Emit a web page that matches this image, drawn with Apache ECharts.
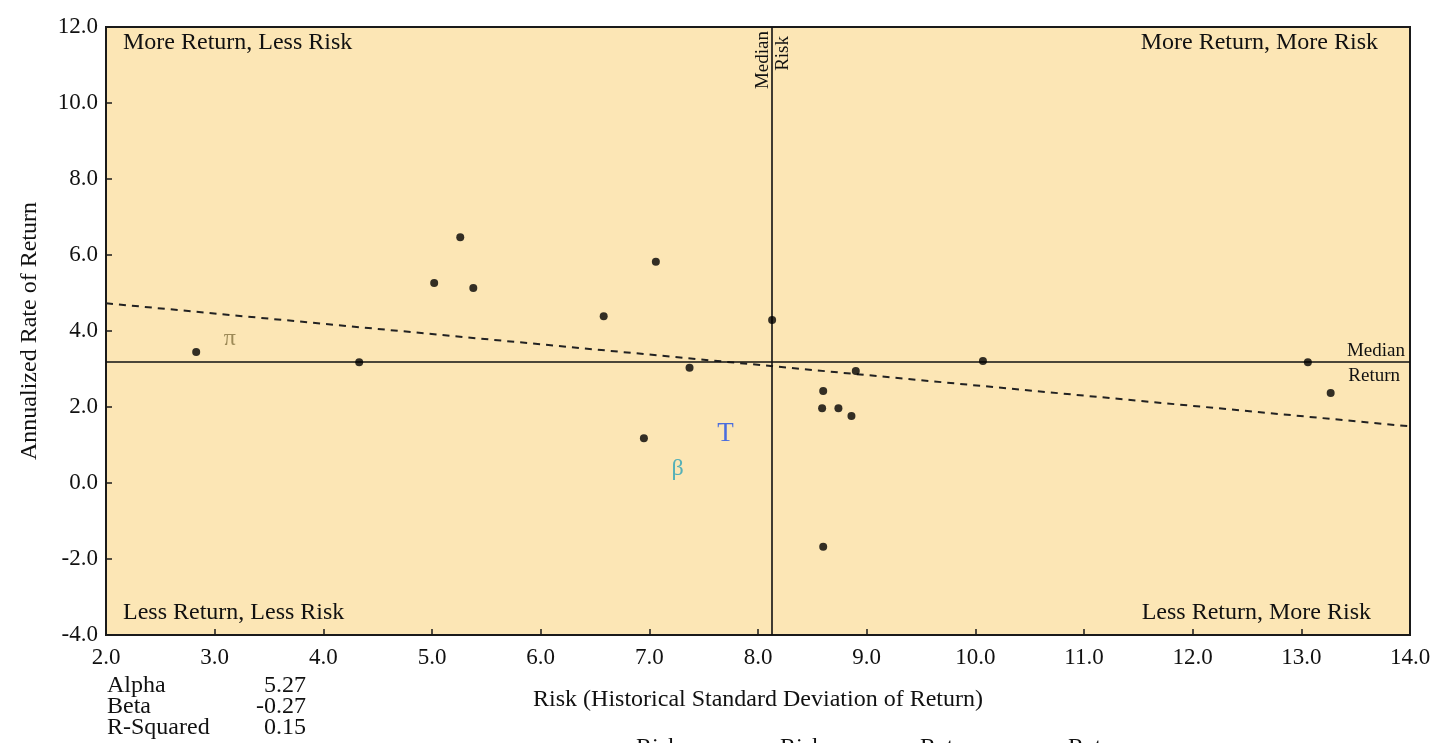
<!DOCTYPE html>
<html>
<head>
<meta charset="utf-8">
<script src="https://cdn.jsdelivr.net/npm/echarts@6/dist/echarts.min.js"></script>
<style>
html,body{margin:0;padding:0;background:#fff;}
#chart{width:1436px;height:743px;}
</style>
</head>
<body>
<div id="chart"></div>
<script>
// ---- data ----
const managerPoints = [
  [2.83, 3.45], [4.33, 3.18], [5.02, 5.26], [5.26, 6.47], [5.38, 5.13],
  [6.58, 4.39], [7.06, 5.82], [6.95, 1.18], [7.37, 3.03], [8.13, 4.29],
  [8.90, 2.95], [8.60, 2.42], [8.59, 1.97], [8.74, 1.97], [8.86, 1.76],
  [8.60, -1.68], [10.07, 3.21], [13.06, 3.18], [13.27, 2.37]
];
const benchmarkSymbols = ['π', 'β', 'T'];
const benchmarkPoints = [[3.14, 3.79], [7.26, 0.37], [7.70, 1.29]];
const benchmarkColors = ['#857340', '#2AA3B8', '#1D4FE8'];
const regressionLine = [[2.0, 4.73], [14.0, 1.49]];
const medianRisk = 8.13;
const medianReturn = 3.18;
const statNames = ['Alpha', 'Beta', 'R-Squared'];
const statValues = ['5.27', '-0.27', '0.15'];
const quadrantLabels = ['More Return, Less Risk', 'More Return, More Risk', 'Less Return, Less Risk', 'Less Return, More Risk'];
const bottomLegendWords = ['Risk', 'Risk', 'Return', 'Return'];
const xTicks = {min: 2, max: 14, interval: 1};
const yTicks = {min: -4, max: 12, interval: 2};

const FONT = 'Liberation Serif';
const chart = echarts.init(document.getElementById('chart'));

const G = {left: 106, right: 26, top: 27, bottom: 108};

const option = {
  animation: false,
  backgroundColor: '#ffffff',
  grid: {
    left: G.left, right: G.right, top: G.top, bottom: G.bottom,
    show: true, backgroundColor: '#FCE6B5', borderColor: '#1a1a1a', borderWidth: 2
  },
  xAxis: {
    type: 'value', min: xTicks.min, max: xTicks.max, interval: xTicks.interval,
    name: 'Risk (Historical Standard Deviation of Return)',
    nameLocation: 'middle', nameGap: 53,
    nameTextStyle: {fontFamily: FONT, fontSize: 24, color: '#111'},
    axisLine: {show: true, onZero: false, lineStyle: {color: '#1a1a1a', width: 2}},
    axisTick: {show: true, inside: true, length: 6, lineStyle: {color: '#1a1a1a', width: 1.5}},
    axisLabel: {fontFamily: FONT, fontSize: 23, color: '#111', margin: 11,
      formatter: v => v.toFixed(1)},
    splitLine: {show: false}
  },
  yAxis: {
    type: 'value', min: yTicks.min, max: yTicks.max, interval: yTicks.interval,
    name: 'Annualized Rate of Return',
    nameLocation: 'middle', nameGap: 64, nameRotate: 90,
    nameTextStyle: {fontFamily: FONT, fontSize: 24, color: '#111'},
    axisLine: {show: true, onZero: false, lineStyle: {color: '#1a1a1a', width: 2}},
    axisTick: {show: true, inside: true, length: 6, lineStyle: {color: '#1a1a1a', width: 1.5}},
    axisLabel: {fontFamily: FONT, fontSize: 23, color: '#111', margin: 8,
      formatter: v => v.toFixed(1)},
    splitLine: {show: false}
  },
  series: [
    {
      type: 'line', data: regressionLine, symbol: 'none', silent: true,
      lineStyle: {color: '#222', width: 2, type: [7, 6]}, z: 3
    },
    {
      type: 'scatter', data: managerPoints, symbol: 'circle', symbolSize: 8,
      itemStyle: {color: '#000'}, z: 5,
      markLine: {
        silent: true, symbol: 'none', animation: false,
        lineStyle: {color: '#111', width: 1.6, type: 'solid'},
        label: {show: false},
        data: [{xAxis: medianRisk}, {yAxis: medianReturn}]
      }
    },
    {
      type: 'scatter',
      data: benchmarkPoints.map((p, i) => ({
        value: p,
        label: {formatter: benchmarkSymbols[i], color: benchmarkColors[i], fontSize: i === 0 ? 24 : (i === 1 ? 24 : 27)}
      })),
      symbol: 'circle', symbolSize: 1, itemStyle: {color: 'rgba(0,0,0,0)'}, z: 6,
      label: {show: true, position: 'inside', fontFamily: FONT, fontSize: 24}
    }
  ],
  graphic: []
};
chart.setOption(option);

// place annotation texts relative to the axes
const mr = chart.convertToPixel({gridIndex: 0}, [medianRisk, yTicks.max]);
const mret = chart.convertToPixel({gridIndex: 0}, [xTicks.max, medianReturn]);
const txt = (o) => Object.assign({type: 'text', silent: true, z: 50}, o);
const ts = (text, size, extra) => Object.assign({text: text, fontFamily: FONT, fontSize: size, fill: '#111'}, extra || {});
const gridL = G.left, gridR = 1436 - G.right, gridT = G.top, gridB = 743 - G.bottom;

const graphics = [
  txt({x: gridL + 17, y: gridT + 16, style: ts(quadrantLabels[0], 24, {verticalAlign: 'middle', align: 'left'})}),
  txt({x: gridR - 32, y: gridT + 16, style: ts(quadrantLabels[1], 24, {verticalAlign: 'middle', align: 'right'})}),
  txt({x: gridL + 17, y: gridB - 22, style: ts(quadrantLabels[2], 24, {verticalAlign: 'middle', align: 'left'})}),
  txt({x: gridR - 39, y: gridB - 22, style: ts(quadrantLabels[3], 24, {verticalAlign: 'middle', align: 'right'})}),
  // median risk (vertical, reading bottom-to-top)
  txt({x: mr[0] - 9, y: mr[1] + 4, rotation: Math.PI / 2, style: ts('Median', 19, {align: 'right', verticalAlign: 'middle'})}),
  txt({x: mr[0] + 11, y: mr[1] + 9, rotation: Math.PI / 2, style: ts('Risk', 19, {align: 'right', verticalAlign: 'middle'})}),
  // median return
  txt({x: mret[0] - 5, y: mret[1] - 11, style: ts('Median', 19, {align: 'right', verticalAlign: 'middle'})}),
  txt({x: mret[0] - 10, y: mret[1] + 14, style: ts('Return', 19, {align: 'right', verticalAlign: 'middle'})})
];
statNames.forEach((n, i) => {
  graphics.push(txt({x: 107, y: 686 + i * 21, style: ts(n, 24, {align: 'left', verticalAlign: 'middle'})}));
  graphics.push(txt({x: 306, y: 686 + i * 21, style: ts(statValues[i], 24, {align: 'right', verticalAlign: 'middle'})}));
});
const legendX = [636, 780, 920, 1068];
bottomLegendWords.forEach((w, i) => {
  graphics.push(txt({x: legendX[i], y: 736, style: ts(w, 24, {align: 'left', verticalAlign: 'top'})}));
});
chart.setOption({graphic: graphics});
</script>
</body>
</html>
